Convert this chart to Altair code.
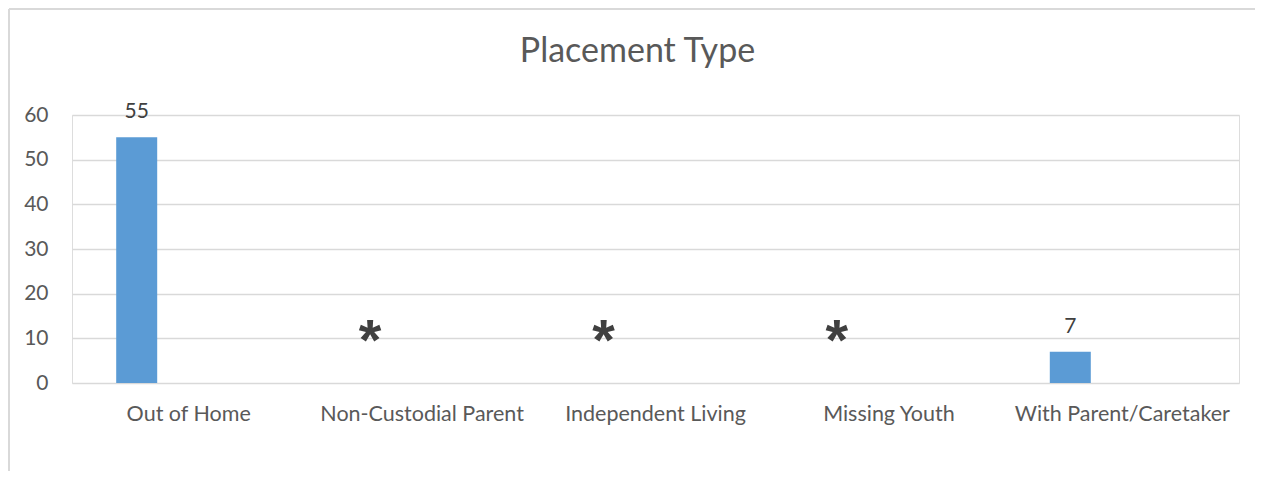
import altair as alt
import pandas as pd

categories = ["Out of Home", "Non-Custodial Parent", "Independent Living", "Missing Youth", "With Parent/Caretaker"]
values = [55, None, None, None, 7]
labels = ["55", "*", "*", "*", "7"]

df = pd.DataFrame({"cat": categories, "value": values, "label": labels})
df["suppressed"] = df["value"].isna()
df["ypos"] = df["value"].fillna(0)

FONT = "Lato"
TXT = "#595959"
BAR_OFF = -52

x = alt.X("cat:N", sort=categories, title=None,
          scale=alt.Scale(paddingInner=0, paddingOuter=0),
          axis=alt.Axis(labelAngle=0, labelFontSize=21.5, labelFont=FONT, labelColor=TXT,
                        labelPadding=20, labelLimit=0, ticks=False, domain=False, grid=False))
y = alt.Y("ypos:Q", title=None,
          scale=alt.Scale(domain=[0, 60], nice=False),
          axis=alt.Axis(values=[0, 10, 20, 30, 40, 50, 60], labelFontSize=21, labelFont=FONT,
                        labelColor=TXT, labelPadding=24, ticks=False, domain=False,
                        gridColor="#d9d9d9", gridWidth=1.5))

base = alt.Chart(df)

bars = base.transform_filter("!datum.suppressed").mark_bar(
    color="#5B9BD5", size=41, xOffset=BAR_OFF).encode(x=x, y=y)

num_labels = base.transform_filter("!datum.suppressed").mark_text(
    font=FONT, fontSize=21, color="#404040", baseline="alphabetic", dy=-19, xOffset=BAR_OFF
).encode(x=x, y=y, text="label:N")

stars = base.transform_filter("datum.suppressed").mark_text(
    font="Liberation Sans", fontSize=58, fontWeight="bold", color="#404040",
    baseline="alphabetic", dy=-23, xOffset=BAR_OFF
).encode(x=x, y=y, text="label:N")

frame_top = alt.Chart(df).mark_rule(color="#d9d9d9", strokeWidth=1.5).encode(
    x=alt.value(-63), x2=alt.value(1300), y=alt.value(-106))
frame_left = alt.Chart(df).mark_rule(color="#d9d9d9", strokeWidth=1.5).encode(
    x=alt.value(-63), y=alt.value(-106), y2=alt.value(500))

chart = alt.layer(frame_top, frame_left, bars, num_labels, stars).properties(
    width=1167, height=268,
    title=alt.TitleParams("Placement Type", font=FONT, fontSize=34, fontWeight="normal",
                          color=TXT, anchor="middle", baseline="alphabetic", offset=-88, dx=-18),
    autosize=alt.AutoSizeParams(type="none"),
    padding={"left": 64, "top": 107, "right": 16, "bottom": 88},
).configure_view(stroke=None).configure(background="white")

chart.save("out.html", embed_options={"renderer": "svg", "actions": False})
